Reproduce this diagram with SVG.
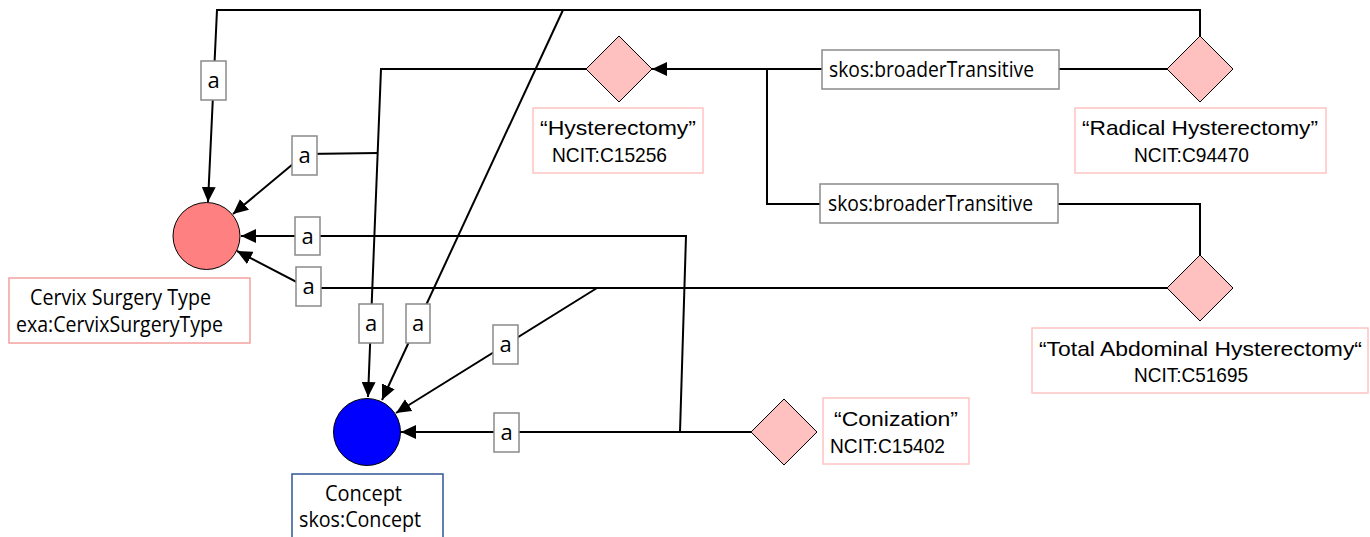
<svg xmlns="http://www.w3.org/2000/svg" width="1370" height="537" viewBox="0 0 1370 537">
<style>
.edge{fill:none;stroke:#000;stroke-width:2}
.arr{marker-end:url(#ah)}
.elab{fill:#fff;stroke:#8a8a8a;stroke-width:1.5}
.etxt{font-family:"Open Sans","Liberation Sans",sans-serif;font-size:21px;fill:#000}
.atxt{font-family:"Open Sans","Liberation Sans",sans-serif;font-size:22px;fill:#000}
.inst{fill:#ffc0c0;stroke:#000;stroke-width:1}
.lbox{fill:#fff;stroke:#ffc4c4;stroke-width:1.5}
.ltxt{font-family:"Liberation Sans",Arial,sans-serif;font-size:21px;fill:#000}
.ctxt{font-family:"Open Sans","Liberation Sans",sans-serif;font-size:21px;fill:#000}
</style>
<defs>
<marker id="ah" markerUnits="userSpaceOnUse" markerWidth="16" markerHeight="14" refX="15" refY="7" orient="auto">
<path d="M0,0 L15,7 L0,14 Z" fill="#000"/>
</marker>
</defs>
<rect width="1370" height="537" fill="#fff"/>
<g id="connectors">
<path class="edge arr" d="M1200,36 V10 H217 L208,202"/>
<path class="edge arr" d="M563,10 L382,400"/>
<path class="edge arr" d="M586,69 H381 L368,397"/>
<path class="edge arr" d="M378,153 L305,154 L233,214"/>
<path class="edge arr" d="M1167,288 H308 L237,251"/>
<path class="edge arr" d="M597,288 L396,413"/>
<path class="edge arr" d="M751,432 H401"/>
<path class="edge arr" d="M680,432 L686,236 H241"/>
<path class="edge arr" d="M1167,69 H652"/>
<path class="edge" d="M1200,255 V204 H767 V69"/>
<g id="edge-labels">
<rect class="elab" x="201" y="61" width="25" height="39"/><text class="atxt" x="213.5" y="88" text-anchor="middle">a</text>
<rect class="elab" x="292" y="136" width="25" height="39"/><text class="atxt" x="304.5" y="163" text-anchor="middle">a</text>
<rect class="elab" x="295" y="217" width="25" height="38"/><text class="atxt" x="307.5" y="244" text-anchor="middle">a</text>
<rect class="elab" x="296" y="267" width="25" height="39"/><text class="atxt" x="308.5" y="294" text-anchor="middle">a</text>
<rect class="elab" x="359" y="304" width="24" height="39"/><text class="atxt" x="371" y="331" text-anchor="middle">a</text>
<rect class="elab" x="406" y="304" width="24" height="39"/><text class="atxt" x="418" y="331" text-anchor="middle">a</text>
<rect class="elab" x="493" y="325" width="25" height="39"/><text class="atxt" x="505.5" y="352" text-anchor="middle">a</text>
<rect class="elab" x="494" y="413" width="25" height="39"/><text class="atxt" x="506.5" y="440" text-anchor="middle">a</text>
<rect class="elab" x="822" y="50" width="237" height="39"/><text class="etxt" x="829" y="77" textLength="205" lengthAdjust="spacingAndGlyphs">skos:broaderTransitive</text>
<rect class="elab" x="820" y="184" width="238" height="39"/><text class="etxt" x="828" y="211" textLength="205" lengthAdjust="spacingAndGlyphs">skos:broaderTransitive</text>
</g>
</g>
<g id="cervix-surgery-type">
<circle cx="206.5" cy="236" r="33.5" fill="#ff8080" stroke="#000" stroke-width="1"/>
<rect x="9" y="278" width="241" height="65" fill="#fff" stroke="#f4a0a0" stroke-width="1.5"/>
<text class="ctxt" x="30" y="305" textLength="181" lengthAdjust="spacingAndGlyphs">Cervix Surgery Type</text>
<text class="ctxt" x="16" y="332" textLength="207" lengthAdjust="spacingAndGlyphs">exa:CervixSurgeryType</text>
</g>
<g id="concept">
<circle cx="367" cy="432" r="33.5" fill="#0000ff" stroke="#000" stroke-width="1"/>
<rect x="292" y="474" width="151" height="70" fill="#fff" stroke="#2f5597" stroke-width="1.5"/>
<text class="ctxt" x="325" y="501" textLength="77" lengthAdjust="spacingAndGlyphs">Concept</text>
<text class="ctxt" x="299" y="527" textLength="122" lengthAdjust="spacingAndGlyphs">skos:Concept</text>
</g>
<g id="hysterectomy">
<path class="inst" d="M619,36 L652,69 L619,102 L586,69 Z"/>
<rect class="lbox" x="533" y="108" width="170" height="65"/>
<text class="ltxt" x="540" y="135" textLength="156" lengthAdjust="spacingAndGlyphs">“Hysterectomy”</text>
<text class="ltxt" x="552" y="162" textLength="115" lengthAdjust="spacingAndGlyphs">NCIT:C15256</text>
</g>
<g id="radical-hysterectomy">
<path class="inst" d="M1200,36 L1233,69 L1200,102 L1167,69 Z"/>
<rect class="lbox" x="1075" y="108" width="251" height="65"/>
<text class="ltxt" x="1082" y="135" textLength="236" lengthAdjust="spacingAndGlyphs">“Radical Hysterectomy”</text>
<text class="ltxt" x="1134" y="162" textLength="115" lengthAdjust="spacingAndGlyphs">NCIT:C94470</text>
</g>
<g id="total-abdominal-hysterectomy">
<path class="inst" d="M1200,255 L1233,288 L1200,321 L1167,288 Z"/>
<rect class="lbox" x="1032" y="328" width="336" height="65"/>
<text class="ltxt" x="1039" y="356" textLength="323" lengthAdjust="spacingAndGlyphs">“Total Abdominal Hysterectomy“</text>
<text class="ltxt" x="1134" y="382" textLength="114" lengthAdjust="spacingAndGlyphs">NCIT:C51695</text>
</g>
<g id="conization">
<path class="inst" d="M784,399 L817,432 L784,465 L751,432 Z"/>
<rect class="lbox" x="823" y="398" width="146" height="66"/>
<text class="ltxt" x="834" y="426" textLength="124" lengthAdjust="spacingAndGlyphs">“Conization”</text>
<text class="ltxt" x="830" y="453" textLength="115" lengthAdjust="spacingAndGlyphs">NCIT:C15402</text>
</g>
</svg>
